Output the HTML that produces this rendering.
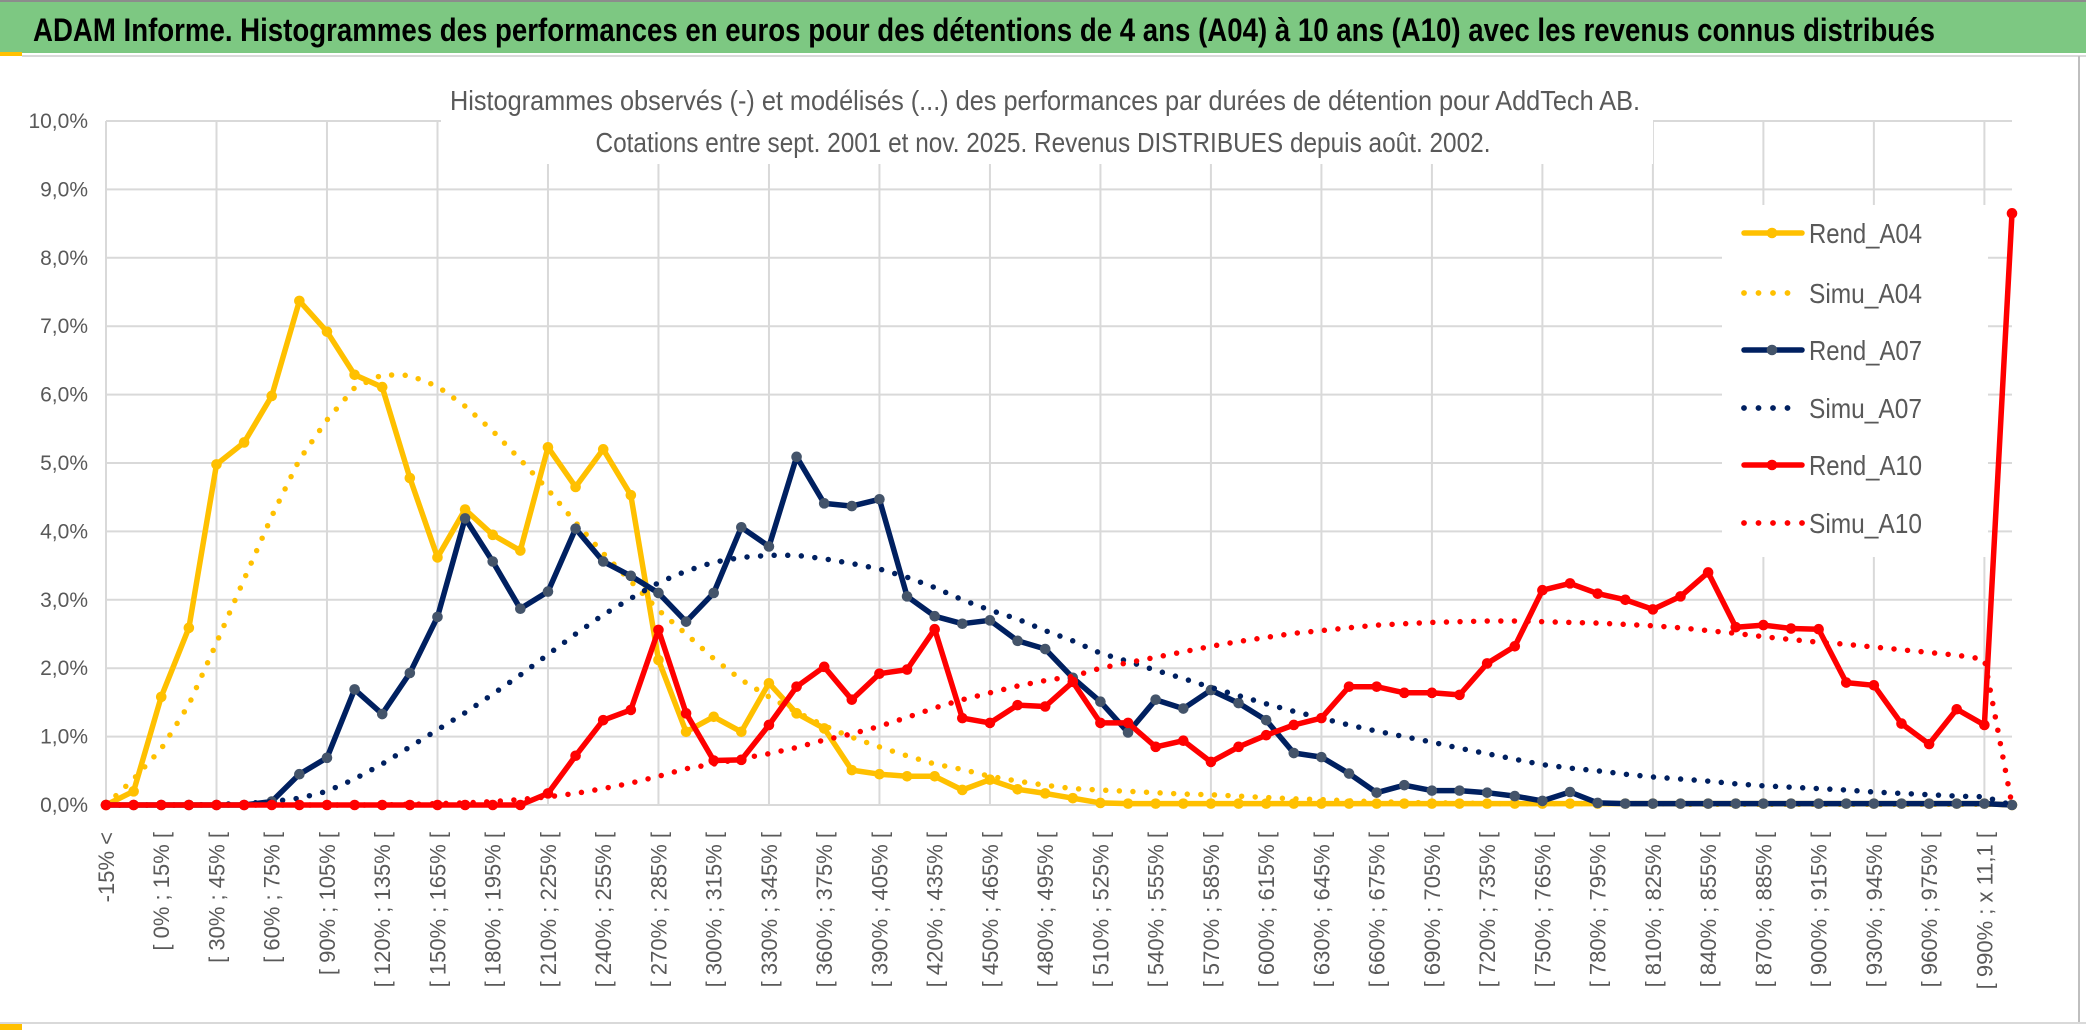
<!DOCTYPE html>
<html><head><meta charset="utf-8"><title>ADAM Informe</title>
<style>
html,body{margin:0;padding:0;background:#fff;width:2086px;height:1033px;overflow:hidden}
svg{display:block}
</style></head>
<body>
<svg id="chart" width="2086" height="1033" viewBox="0 0 2086 1033" xmlns="http://www.w3.org/2000/svg" font-family="'Liberation Sans Narrow','Liberation Sans',sans-serif">
<rect x="0" y="0" width="2086" height="1033" fill="#fff"/>
<rect x="0" y="0" width="2086" height="2" fill="#8c8c8c"/>
<rect x="0" y="2" width="2086" height="51" fill="#7DC882"/>
<rect x="0" y="52" width="22" height="4" fill="#FFC000"/>
<rect x="22" y="55" width="2064" height="2" fill="#d9d9d9"/>
<text x="33" y="41" font-size="32" font-weight="bold" fill="#000" textLength="1902" lengthAdjust="spacingAndGlyphs">ADAM Informe. Histogrammes des performances en euros pour des détentions de 4 ans (A04) à 10 ans (A10) avec les revenus connus distribués</text>
<rect x="2078" y="56" width="2" height="968" fill="#bfbfbf"/>
<rect x="0" y="1022" width="2086" height="2" fill="#d9d9d9"/>
<rect x="0" y="1024" width="22" height="6" fill="#FFC000"/>
<g id="grid"></g>
<g id="ylabels"></g>
<g id="xlabels"></g>
<rect x="441" y="60" width="1212" height="104" fill="#fff"/>
<text x="1045" y="110" font-size="28" fill="#595959" text-anchor="middle" textLength="1190" lengthAdjust="spacingAndGlyphs">Histogrammes observés (-) et modélisés (...) des performances par durées de détention pour AddTech AB.</text>
<text x="1043" y="152" font-size="28" fill="#595959" text-anchor="middle" textLength="895" lengthAdjust="spacingAndGlyphs">Cotations entre sept. 2001 et nov. 2025. Revenus DISTRIBUES depuis août. 2002.</text>
<g id="series"></g>
<g id="legend"></g>
</svg>
<script>
const categories=[];
const yTicks=["0,0%","1,0%","2,0%","3,0%","4,0%","5,0%","6,0%","7,0%","8,0%","9,0%","10,0%"];
const yTickValues=[0,1,2,3,4,5,6,7,8,9,10];
const rendA04=[0,0.2,1.58,2.59,4.98,5.30,5.98,7.37,6.92,6.29,6.11,4.78,3.62,4.32,3.95,3.72,5.23,4.65,5.20,4.53,2.12,1.07,1.29,1.07,1.78,1.34,1.12,0.51,0.45,0.42,0.42,0.22,0.37,0.23,0.17,0.10,0.03,0.02,
0.02,0.02,0.02,0.02,0.02,0.02,0.02,0.02,0.02,0.02,0.02,0.02,0.02,0.02,0.02,0.02,0.02,0.02,0.02,0.02,0.02,0.02,0.02,0.02,0.02,0.02,0.02,0.02,0.02,0.02,0.02,0];
const simuA04=[0,0.38,0.82,1.47,2.37,3.3,4.22,5.05,5.63,6.1,6.29,6.28,6.12,5.83,5.47,5.05,4.61,4.13,3.68,3.27,2.85,2.5,2.14,1.83,1.58,1.36,1.16,0.99,0.85,0.72,0.6,0.52,0.42,0.35,0.29,0.24,0.22,0.2,0.18,0.16,0.15,0.13,0.11,0.09,0.08,0.06,0.05,0.04,0.03,0.03,0.02,0.02,0.02,0.02,0.02,0.02,0.02,0.01,0.01,0.01,0.01,0.01,0.01,0.01,0.01,0.01,0.01,0.01,0.01,0];
const rendA07=[0,0,0,0,0,0,0.05,0.45,0.69,1.69,1.33,1.93,2.75,4.19,3.56,2.87,3.12,4.04,3.56,3.35,3.10,2.68,3.10,4.06,3.78,5.09,4.41,4.37,4.47,3.05,2.76,2.65,2.70,2.40,2.28,1.86,1.51,1.06,1.54,1.41,1.68,1.49,1.24,0.76,0.70,0.46,0.18,0.29,0.21,0.21,0.18,0.13,0.06,0.19,0.03,
0.02,0.02,0.02,0.02,0.02,0.02,0.02,0.02,0.02,0.02,0.02,0.02,0.02,0.02,0];
const simuA07=[0,0,0,0,0.01,0.02,0.05,0.1,0.2,0.38,0.6,0.85,1.1,1.35,1.62,1.9,2.2,2.5,2.78,3.02,3.25,3.42,3.55,3.62,3.65,3.65,3.6,3.53,3.45,3.33,3.18,3.0,2.85,2.72,2.55,2.4,2.22,2.1,1.97,1.85,1.72,1.6,1.48,1.37,1.27,1.17,1.08,1.0,0.92,0.83,0.75,0.67,0.59,0.54,0.5,0.45,0.41,0.38,0.35,0.31,0.28,0.26,0.24,0.22,0.19,0.17,0.15,0.13,0.12,0];
const rendA10=[0,0,0,0,0,0,0,0,0,0,0,0,0,0,0,0,0.17,0.72,1.24,1.39,2.56,1.34,0.65,0.66,1.17,1.73,2.02,1.54,1.92,1.98,2.57,1.27,1.20,1.46,1.44,1.8,1.20,1.20,0.85,0.94,0.63,0.85,1.02,1.17,1.27,1.73,1.73,1.64,1.64,1.61,2.07,2.32,3.14,3.24,3.09,3.0,2.86,3.05,3.40,2.6,2.63,2.58,2.57,1.79,1.75,1.19,0.89,1.40,1.17,8.65];
const simuA10=[0,0,0,0,0,0,0,0,0,0,0,0.01,0.02,0.03,0.05,0.08,0.12,0.17,0.24,0.32,0.42,0.53,0.6,0.68,0.75,0.84,0.95,1.04,1.15,1.28,1.42,1.54,1.64,1.74,1.82,1.88,2.0,2.08,2.16,2.24,2.32,2.39,2.45,2.51,2.55,2.59,2.63,2.65,2.67,2.68,2.69,2.69,2.68,2.67,2.66,2.64,2.62,2.59,2.55,2.51,2.46,2.42,2.38,2.35,2.31,2.27,2.23,2.19,2.13,0];
const seriesNames=["Rend_A04","Simu_A04","Rend_A07","Simu_A07","Rend_A10","Simu_A10"];

categories.push("-15% <");
categories.push("[ -15% ; 0% [");
for(let k=0;k<67;k++){const a=15*k;categories.push(k===66?"[ 990% ; x 11,1 [":"[ "+a+"% ; "+(a+15)+"% [");}
categories.push("");

const NS="http://www.w3.org/2000/svg";
const X0=106, X1=2012, Y0=805, PX=68.4;
function xScale(i){return X0+(X1-X0)*i/(categories.length-1);}
function yScale(v){return Y0-v*PX;}
function mk(tag,attrs,parent){const e=document.createElementNS(NS,tag);for(const k in attrs)e.setAttribute(k,attrs[k]);parent.appendChild(e);return e;}

const grid=document.getElementById('grid');
yTickValues.forEach((v,j)=>{
  const l=mk('line',{x1:X0,x2:X1,y1:yScale(v),y2:yScale(v),stroke:'#d9d9d9','stroke-width':2},grid);
  
  
  const t=mk('text',{x:88,y:yScale(v)+7,'font-size':21,fill:'#595959','text-anchor':'end'},document.getElementById('ylabels'));
  t.textContent=yTicks[j];
  
  
});
for(let i=0;i<categories.length;i+=4){
  const l=mk('line',{x1:xScale(i),x2:xScale(i),y1:yScale(10),y2:Y0,stroke:'#d9d9d9','stroke-width':2},grid);
  
  
}
const xl=document.getElementById('xlabels');
for(let i=0;i<categories.length;i+=2){
  if(!categories[i])continue;
  const x=xScale(i)+8,y=832;
  const t=mk('text',{x:x,y:y,'font-size':22,fill:'#595959','text-anchor':'end','font-family':"'Liberation Sans',sans-serif",transform:'rotate(-90 '+x+' '+y+')'},xl);
  t.textContent=categories[i];
  
  
}

const sg=document.getElementById('series');
function pts(arr){return arr.map((v,i)=>xScale(i).toFixed(1)+','+yScale(v).toFixed(1)).join(' ');}
function solid(arr,color,mcolor,name){
  const g=mk('g',{},sg);
  
  
  const p=mk('polyline',{points:pts(arr),fill:'none',stroke:color,'stroke-width':5.5,'stroke-linejoin':'round','stroke-linecap':'round'},g);
  
  
  arr.forEach((v,i)=>{
    const c=mk('circle',{cx:xScale(i),cy:yScale(v),r:5.3,fill:mcolor},g);
    
    
  });
}
function dotted(arr,color,name){
  const p=mk('polyline',{points:pts(arr),fill:'none',stroke:color,'stroke-width':5.5,'stroke-linecap':'round','stroke-linejoin':'round','stroke-dasharray':'0 13.6'},sg);
  
  
}
solid(rendA04,'#FFC000','#FFC000','rend-a04');
dotted(simuA04,'#FFC000','simu-a04');
solid(rendA07,'#002060','#44546A','rend-a07');
dotted(simuA07,'#002060','simu-a07');
solid(rendA10,'#FF0000','#FF0000','rend-a10');
dotted(simuA10,'#FF0000','simu-a10');

const lg=document.getElementById('legend');
const lb=mk('rect',{x:1722,y:205,width:266,height:352,fill:'#fff'},lg);


const lcol=['#FFC000','#FFC000','#002060','#002060','#FF0000','#FF0000'];
const lmk=['#FFC000',null,'#44546A',null,'#FF0000',null];
const ly=[233,293,350,408,465,523];
seriesNames.forEach((n,k)=>{
  const g=mk('g',{},lg);
  
  
  if(lmk[k]){
    mk('line',{x1:1744,x2:1802,y1:ly[k],y2:ly[k],stroke:lcol[k],'stroke-width':5.5,'stroke-linecap':'round'},g);
    mk('circle',{cx:1772,cy:ly[k],r:5.3,fill:lmk[k]},g);
  }else{
    const nd=k===5?5:4;
    for(let d=0;d<nd;d++)mk('circle',{cx:1744+d*14.5,cy:ly[k],r:2.9,fill:lcol[k]},g);
  }
  const t=mk('text',{x:1809,y:ly[k]+10,'font-size':28,fill:'#595959',textLength:113,lengthAdjust:'spacingAndGlyphs'},g);
  t.textContent=n;
});
</script>
</body></html>
